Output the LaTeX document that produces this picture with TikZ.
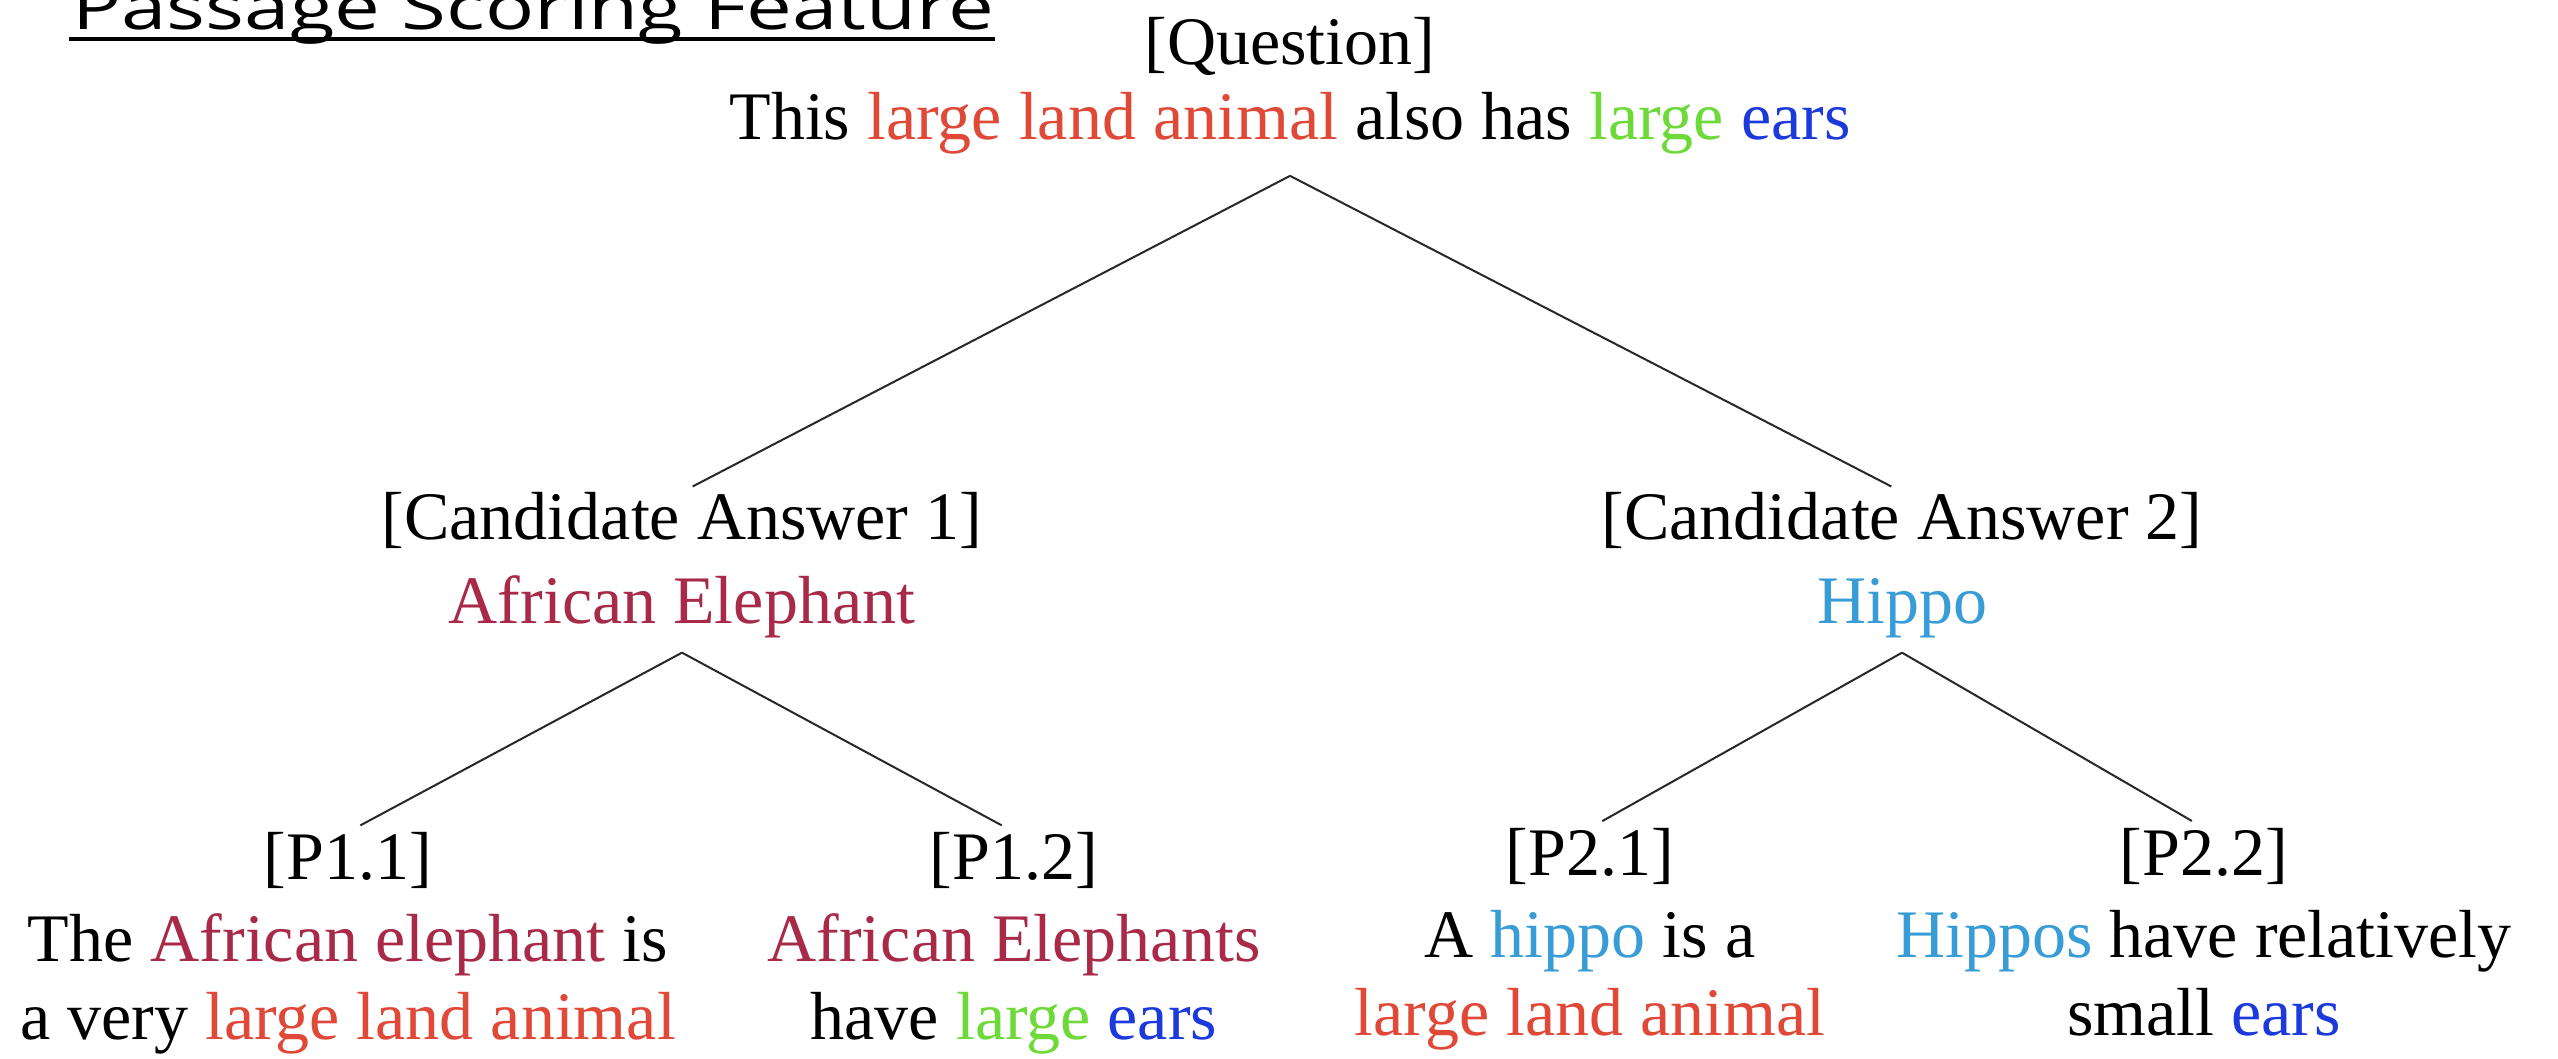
\documentclass[tikz,border=0pt]{standalone}
\usepackage{fontspec}
\usepackage{graphicx}
\setmainfont{Liberation Serif}
\newfontfamily\titlefont{Open Sans}
\definecolor{cred}{RGB}{224,72,56}
\definecolor{cgreen}{RGB}{110,218,58}
\definecolor{cblue}{RGB}{28,58,220}
\definecolor{cmaroon}{RGB}{168,42,72}
\definecolor{chippo}{RGB}{56,156,214}
\definecolor{cline}{RGB}{40,40,40}
\tikzset{
  tn/.style={inner sep=0pt, outer sep=0pt, align=center, anchor=north},
  rootfont/.style={font=\fontsize{34pt}{37.5pt}\selectfont},
  candfont/.style={font=\fontsize{34pt}{42pt}\selectfont},
  leaffont/.style={font=\fontsize{34pt}{39pt}\selectfont},
  treeedge/.style={draw=cline, line width=1pt},
}
\begin{document}
\begin{tikzpicture}[x=0.5pt, y=-0.5pt]
\useasboundingbox (0,0) rectangle (2558,1059);
\clip (0,0) rectangle (2558,1059);
\fill[white] (0,0) rectangle (2558,1059);

% title
\node[anchor=base west, inner sep=0pt] (title) at (72,30)
  {\resizebox{461pt}{\height}{\titlefont\fontsize{31pt}{36pt}\selectfont Passage Scoring Feature}};
\draw[line width=2pt] ([xshift=-1.5pt,yshift=-4.5pt]title.base west) -- ([yshift=-4.5pt]title.base east);

% tree nodes
\node[tn, rootfont] (root) at (1290,17)
  {[Question]\\ This \textcolor{cred}{large land animal} also has \textcolor{cgreen}{large} \textcolor{cblue}{ears}};
\node[tn, candfont] (c1) at (682,492)
  {[Candidate Answer 1]\\ \textcolor{cmaroon}{African Elephant}};
\node[tn, candfont] (c2) at (1902,492)
  {[Candidate Answer 2]\\ \textcolor{chippo}{Hippo}};
\node[tn, leaffont] (p11) at (348,832)
  {[P1.1]\\[2pt] The \textcolor{cmaroon}{African elephant} is\\ a very \textcolor{cred}{large land animal}};
\node[tn, leaffont] (p12) at (1014,832)
  {[P1.2]\\[2pt] \textcolor{cmaroon}{African Elephants}\\ have \textcolor{cgreen}{large} \textcolor{cblue}{ears}};
\node[tn, leaffont] (p21) at (1590,828)
  {[P2.1]\\[2pt] A \textcolor{chippo}{hippo} is a\\ \textcolor{cred}{large land animal}};
\node[tn, leaffont] (p22) at (2204,828)
  {[P2.2]\\[2pt] \textcolor{chippo}{Hippos} have relatively\\ small \textcolor{cblue}{ears}};

% apex points of the forks
\coordinate (rootapex) at ([yshift=-11pt]root.south);
\coordinate (c1apex) at ([yshift=-7.5pt]c1.south);
\coordinate (c2apex) at ([yshift=-7.5pt]c2.south);

% edges
\draw[treeedge, shorten >=6pt] (rootapex) -- (c1.north);
\draw[treeedge, shorten >=6pt] (rootapex) -- (c2.north);
\draw[treeedge, shorten >=7pt] (c1apex) -- (p11.north);
\draw[treeedge, shorten >=7pt] (c1apex) -- (p12.north);
\draw[treeedge, shorten >=7pt] (c2apex) -- (p21.north);
\draw[treeedge, shorten >=7pt] (c2apex) -- (p22.north);
\end{tikzpicture}
\end{document}
